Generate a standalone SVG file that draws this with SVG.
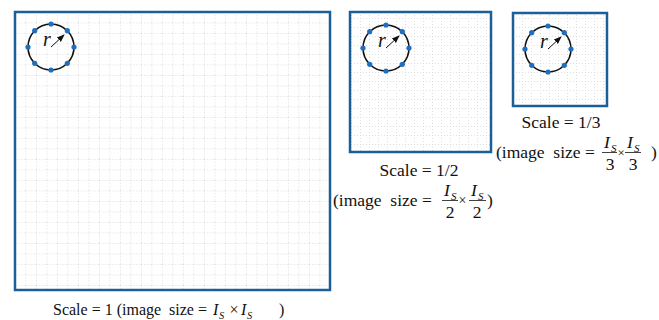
<svg xmlns="http://www.w3.org/2000/svg" width="659" height="320" viewBox="0 0 659 320">
<style>
.box{fill:url(#grid);stroke:#1b5e98;stroke-width:2.5}
.boxs{fill:url(#grids);stroke:#1b5e98;stroke-width:2.5}
.circ{fill:none;stroke:#111;stroke-width:1.6}
.dot{fill:#1f6fc0}
.t{font-family:"Liberation Serif","Times New Roman",serif;fill:#111}
.it{font-style:italic}
.bar{stroke:#111;stroke-width:0.8}
.arr{stroke:#111;stroke-width:1}
</style>
<defs>
<pattern id="grid" patternUnits="userSpaceOnUse" x="15" y="12" width="10.5" height="10.5">
<path d="M0 0.5H10.5M0.5 0V10.5" stroke="#d6d6d6" stroke-width="0.8" stroke-dasharray="1 2" fill="none"/>
</pattern>
<pattern id="grids" patternUnits="userSpaceOnUse" x="0" y="0" width="9" height="9">
<path d="M0 0.5H9M0.5 0V9" stroke="#d6d6d6" stroke-width="0.8" stroke-dasharray="1 2" fill="none"/>
</pattern>
<marker id="ah" markerWidth="8" markerHeight="8" refX="7" refY="4" orient="auto" markerUnits="userSpaceOnUse">
<path d="M0 1L8 4L0 7Z" fill="#111"/>
</marker>
<g id="ring">
<circle class="circ" cx="0" cy="0" r="23"/>
<circle class="dot" cx="0" cy="-23" r="2.6"/>
<circle class="dot" cx="16.3" cy="-16.3" r="2.6"/>
<circle class="dot" cx="23" cy="0" r="2.6"/>
<circle class="dot" cx="16.3" cy="16.3" r="2.6"/>
<circle class="dot" cx="0" cy="23" r="2.6"/>
<circle class="dot" cx="-16.3" cy="16.3" r="2.6"/>
<circle class="dot" cx="-23" cy="0" r="2.6"/>
<circle class="dot" cx="-16.3" cy="-16.3" r="2.6"/>
<line class="arr" x1="0" y1="0" x2="13" y2="-12" marker-end="url(#ah)"/>
<text class="t it" x="-8" y="-1" font-size="20">r</text>
</g>
</defs>

<g id="scale1">
<rect class="box" x="15" y="12" width="315" height="278"/>
<use href="#ring" x="51" y="47"/>
<text class="t" x="53" y="315" font-size="16" xml:space="preserve">Scale = 1 (image  size =</text>
<text class="t it" x="213" y="315" font-size="16">I</text>
<text class="t it" x="219" y="319" font-size="10.5">S</text>
<text class="t" x="229.5" y="315" font-size="16">×</text>
<text class="t it" x="241" y="315" font-size="16">I</text>
<text class="t it" x="247" y="319" font-size="10.5">S</text>
<text class="t" x="279" y="315" font-size="16">)</text>
</g>

<g id="scale2">
<rect class="boxs" x="350" y="12" width="141" height="140"/>
<use href="#ring" x="386" y="48"/>
<text class="t" x="419" y="176" font-size="17.5" text-anchor="middle">Scale = 1/2</text>
<text class="t" x="333" y="206" font-size="17.5" xml:space="preserve">(image  size =</text>
<text class="t it" x="444" y="196" font-size="17.5">I</text>
<text class="t it" x="451" y="199.5" font-size="11">S</text>
<line class="bar" x1="442" y1="200.5" x2="458" y2="200.5"/>
<text class="t" x="450" y="218" font-size="17.5" text-anchor="middle">2</text>
<text class="t" x="458.5" y="204.5" font-size="14">×</text>
<text class="t it" x="471" y="196" font-size="17.5">I</text>
<text class="t it" x="478" y="199.5" font-size="11">S</text>
<line class="bar" x1="469" y1="200.5" x2="486" y2="200.5"/>
<text class="t" x="477" y="218" font-size="17.5" text-anchor="middle">2</text>
<text class="t" x="487" y="206" font-size="17.5">)</text>
</g>

<g id="scale3">
<rect class="boxs" x="513" y="13" width="94" height="93"/>
<use href="#ring" x="548" y="49"/>
<text class="t" x="561" y="128" font-size="17.5" text-anchor="middle">Scale = 1/3</text>
<text class="t" x="496" y="158" font-size="17.5" xml:space="preserve">(image  size =</text>
<text class="t it" x="604" y="148" font-size="17.5">I</text>
<text class="t it" x="611" y="151.5" font-size="11">S</text>
<line class="bar" x1="602" y1="152.5" x2="617" y2="152.5"/>
<text class="t" x="610" y="170" font-size="17.5" text-anchor="middle">3</text>
<text class="t" x="617.5" y="156.5" font-size="13">×</text>
<text class="t it" x="627" y="148" font-size="17.5">I</text>
<text class="t it" x="634" y="151.5" font-size="11">S</text>
<line class="bar" x1="625" y1="152.5" x2="641" y2="152.5"/>
<text class="t" x="633" y="170" font-size="17.5" text-anchor="middle">3</text>
<text class="t" x="651" y="158" font-size="17.5">)</text>
</g>
</svg>
